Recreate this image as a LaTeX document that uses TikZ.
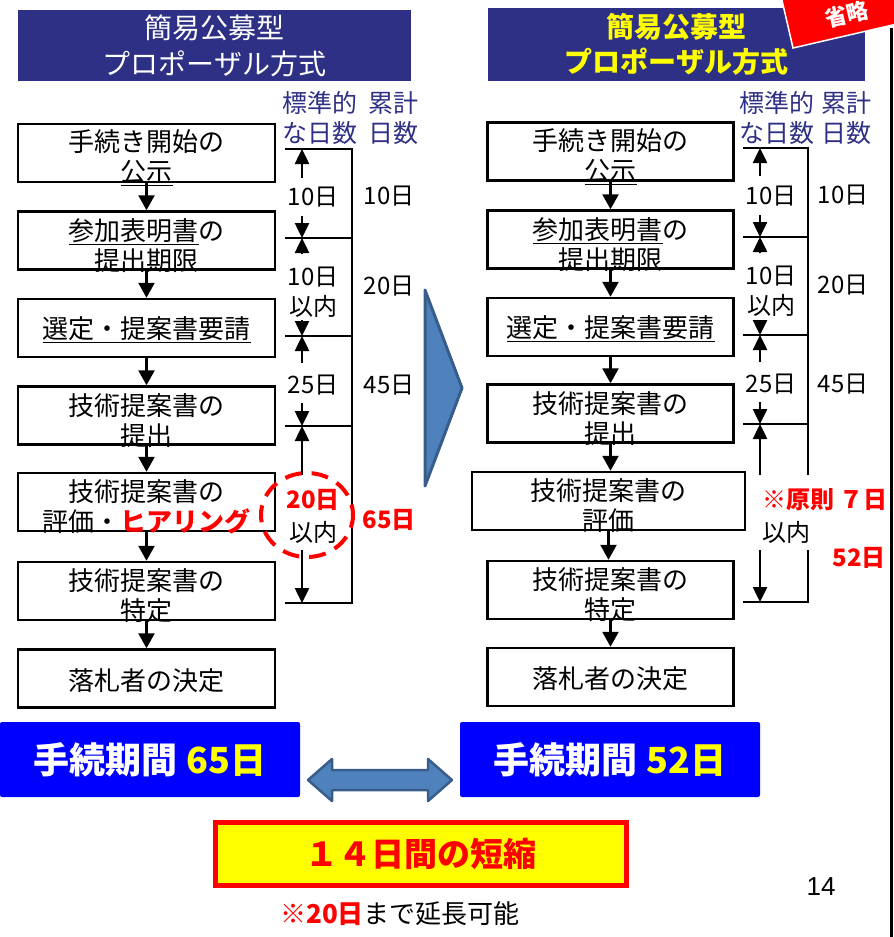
\documentclass[tikz,border=0pt]{standalone}
\usepackage{fontspec}
\setmainfont{Noto Sans CJK JP}
\newfontfamily\arialfont{Liberation Sans}
\usetikzlibrary{arrows.meta}
\definecolor{hdrblue}{RGB}{46,48,134}
\definecolor{pureblue}{RGB}{0,0,255}
\definecolor{steel}{RGB}{79,129,189}
\definecolor{steeldark}{RGB}{56,93,138}
\definecolor{yel}{RGB}{255,255,0}
\tikzset{
 stepbox/.style={draw=black, line width=2.5pt, fill=white, inner sep=0pt, minimum height=58pt},
 boxtext/.style={align=center, font=\fontsize{26}{30}\selectfont, inner sep=0pt, yshift=-5pt},
 lbox/.style={stepbox, minimum width=257pt},
 rbox/.style={stepbox, minimum width=246pt},
 flow/.style={line width=2.5pt, -{Triangle[width=16pt,length=15pt]}},
 tarr/.style={line width=2.5pt, -{Triangle[width=14pt,length=15pt]}},
 tline/.style={line width=2.5pt},
 daylbl/.style={font=\fontsize{24}{29}\selectfont, inner sep=0pt},
 redlbl/.style={font=\fontsize{24}{29}\selectfont\bfseries, text=red, inner sep=0pt},
 hdrlbl/.style={font=\fontsize{25}{30}\selectfont, text=hdrblue, inner sep=0pt},
 header/.style={fill=hdrblue, inner sep=0pt, align=center, font=\fontsize{28}{36}\selectfont},
 sumbox/.style={fill=pureblue, rounded corners=2pt, minimum width=300pt, minimum height=75pt, inner sep=0pt, text=white, font=\fontsize{36}{40}\selectfont\bfseries},
}
\begin{document}
\begin{tikzpicture}[x=1pt,y=-1pt]
\useasboundingbox (0,0) rectangle (894,937);

% headers
\node[header, minimum width=393pt, minimum height=71pt, text=white] (hl) at (214.5,45.5) {簡易公募型\\プロポーザル方式};
\node[header, minimum width=377pt, minimum height=73pt, text=yel, font=\fontsize{28}{35}\selectfont\bfseries] (hr) at (676.5,44) {簡易公募型\\プロポーザル方式};

% red stamp
\draw[fill=red, draw=white, line width=1.5pt] (793,48) -- (948.8,12) -- (933,-56) -- (777.25,-20.2) -- cycle;
\node[text=white, font=\fontsize{22}{24}\selectfont\bfseries, rotate=13, inner sep=0pt] (stamp) at (847,14) {省略};
\draw[line width=3pt] (891,28) -- (891,937);

% timeline headers
\node[hdrlbl] (lh1) at (320,103) {標準的};
\node[hdrlbl] (lh2) at (320,133) {な日数};
\node[hdrlbl] (lh3) at (393,103) {累計};
\node[hdrlbl] (lh4) at (393,133) {日数};
\node[hdrlbl] (rh1) at (777,103) {標準的};
\node[hdrlbl] (rh2) at (777,133) {な日数};
\node[hdrlbl] (rh3) at (846,103) {累計};
\node[hdrlbl] (rh4) at (846,133) {日数};

% left boxes
\node[lbox, label={[boxtext]center:{手続き開始の\\\underline{公示}}}] (b1) at (146.5,153) {};
\node[lbox, label={[boxtext]center:{\underline{参加表明書}の\\提出期限}}] (b2) at (146.5,240.5) {};
\node[lbox, label={[boxtext, yshift=3pt]center:{\underline{選定・提案書要請}}}] (b3) at (146.5,328) {};
\node[lbox, label={[boxtext]center:{技術提案書の\\提出}}] (b4) at (146.5,415.5) {};
\node[lbox, label={[boxtext]center:{技術提案書の\\評価・{\color{red}\bfseries ヒアリング}}}] (b5) at (146.5,502) {};
\node[lbox, label={[boxtext]center:{技術提案書の\\特定}}] (b6) at (146.5,591) {};
\node[lbox, label={[boxtext, yshift=3pt]center:{落札者の決定}}] (b7) at (146.5,678.5) {};
\foreach \a/\b in {b1/b2,b2/b3,b3/b4,b4/b5,b5/b6,b6/b7}
  \draw[flow] (\a.south) -- (\b.north);

% right boxes
\node[rbox, label={[boxtext]center:{手続き開始の\\\underline{公示}}}] (r1) at (610.5,151.5) {};
\node[rbox, label={[boxtext]center:{\underline{参加表明書}の\\提出期限}}] (r2) at (610.5,239.5) {};
\node[rbox, label={[boxtext, yshift=3pt]center:{\underline{選定・提案書要請}}}] (r3) at (610.5,327) {};
\node[rbox, label={[boxtext]center:{技術提案書の\\提出}}] (r4) at (610.5,413.5) {};
\node[stepbox, minimum width=273pt, label={[boxtext]center:{技術提案書の\\評価}}] (r5) at (608.5,501) {};
\node[rbox, label={[boxtext]center:{技術提案書の\\特定}}] (r6) at (610.5,590) {};
\node[rbox, label={[boxtext, yshift=3pt]center:{落札者の決定}}] (r7) at (610.5,677) {};
\foreach \a/\b in {r1/r2,r2/r3,r3/r4,r4/r5,r5/r6,r6/r7}
  \draw[flow] (\a.south) -- (\a.south |- \b.north);

% left timeline
\coordinate (la0) at (285,149); \coordinate (lb0) at (352,149);
\coordinate (la1) at (285,238); \coordinate (lb1) at (352,238);
\coordinate (la2) at (285,336); \coordinate (lb2) at (352,336);
\coordinate (la3) at (285,426); \coordinate (lb3) at (352,426);
\coordinate (la4) at (285,603); \coordinate (lb4) at (352,603);
\draw[tline] (la0) -- (lb0) -- (lb4) -- (la4);
\draw[tline] (la1) -- (lb1);
\draw[tline] (la2) -- (lb2);
\draw[tline] (la3) -- (lb3);
\draw[tarr] (302,178) -- (302,149);
\draw[tarr] (302,216) -- (302,238);
\draw[tarr] (302,254) -- (302,238);
\draw[tarr] (302,320) -- (302,336);
\draw[tarr] (302,363) -- (302,336);
\draw[tarr] (302,403) -- (302,426);
\draw[tarr] (302,475) -- (302,426);
\draw[tarr] (302,550) -- (302,603);
\node[daylbl] (l1) at (313,197) {10日};
\node[daylbl] (l2a) at (313,277) {10日};
\node[daylbl] (l2b) at (313,306) {以内};
\node[daylbl] (l3) at (313,385) {25日};
\node[redlbl] (l4a) at (313,500) {20日};
\node[daylbl] (l4b) at (313,532) {以内};
\draw[red, line width=4pt, dash pattern=on 17pt off 10pt, dash phase=4pt] (307,515) ellipse [x radius=46, y radius=42];
\node[daylbl] (c1) at (389,196) {10日};
\node[daylbl] (c2) at (389,286) {20日};
\node[daylbl] (c3) at (389,385) {45日};
\node[redlbl] (c4) at (389,520) {65日};

% right timeline
\coordinate (ra0) at (743,148); \coordinate (rb0) at (808,148);
\coordinate (ra1) at (743,237); \coordinate (rb1) at (808,237);
\coordinate (ra2) at (743,335); \coordinate (rb2) at (808,335);
\coordinate (ra3) at (743,424); \coordinate (rb3) at (808,424);
\coordinate (ra4) at (743,602); \coordinate (rb4) at (808,602);
\coordinate (rg1) at (808,475); \coordinate (rg2) at (808,550);
\draw[tline] (ra0) -- (rb0) -- (rg1);
\draw[tline] (rg2) -- (rb4) -- (ra4);
\draw[tline] (ra1) -- (rb1);
\draw[tline] (ra2) -- (rb2);
\draw[tline] (ra3) -- (rb3);
\draw[tarr] (760,176) -- (760,148);
\draw[tarr] (760,215) -- (760,237);
\draw[tarr] (760,253) -- (760,237);
\draw[tarr] (760,320) -- (760,335);
\draw[tarr] (760,362) -- (760,335);
\draw[tarr] (760,402) -- (760,424);
\draw[tarr] (760,475) -- (760,424);
\draw[tarr] (760,550) -- (760,602);
\node[daylbl] (rl1) at (771,196) {10日};
\node[daylbl] (rl2a) at (771,276) {10日};
\node[daylbl] (rl2b) at (771,305) {以内};
\node[daylbl] (rl3) at (771,384) {25日};
\node[redlbl, anchor=west] (rl4a) at (762,500) {※原則 ７日};
\node[daylbl, anchor=west] (rl4b) at (762,532) {以内};
\node[daylbl] (rc1) at (843,195) {10日};
\node[daylbl] (rc2) at (843,285) {20日};
\node[daylbl] (rc3) at (843,384) {45日};
\node[redlbl] (rc4) at (859,558) {52日};

% chevron
\draw[fill=steel, draw=steeldark, line width=3pt, line join=round] (425,290) -- (462,388) -- (425,486) -- cycle;

% summary boxes
\node[sumbox] (s1) at (150,759.5) {手続期間 {\color{yel}65日}};
\node[sumbox] (s2) at (610,759.5) {手続期間 {\color{yel}52日}};
\draw[fill=steel, draw=steeldark, line width=2.5pt, line join=round]
  (308,780) -- (332,759) -- (332,770) -- (428,770) -- (428,759) -- (452,780) -- (428,801) -- (428,790) -- (332,790) -- (332,801) -- cycle;

% reduction
\node[draw=red, line width=5pt, fill=yel, minimum width=411pt, minimum height=63pt, inner sep=0pt, text=red, font=\fontsize{33}{38}\selectfont\bfseries] (red) at (421,854) {１４日間の短縮};
\node[inner sep=0pt, font=\fontsize{26}{30}\selectfont] (note) at (400,914) {{\color{red}\bfseries ※20日}まで延長可能};
\node[inner sep=0pt, font=\arialfont\fontsize{26}{30}\selectfont] (pg) at (821,887) {14};
\end{tikzpicture}
\end{document}
